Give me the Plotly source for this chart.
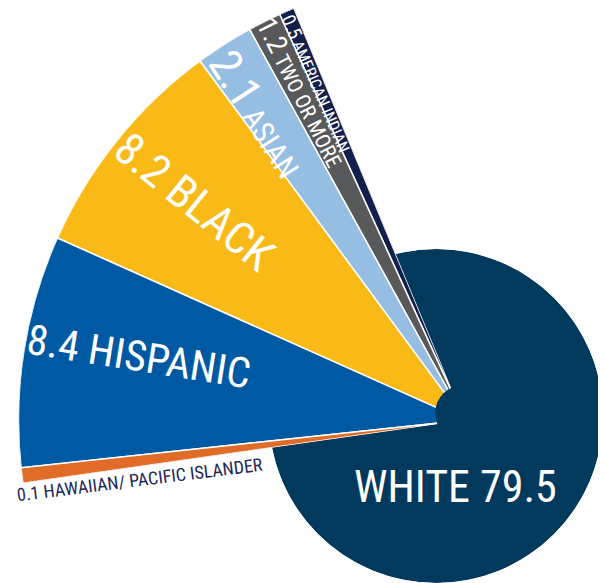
import numpy as np
import plotly.graph_objects as go

W, H = 606, 583
OFF = 8   # the page body margin pushes the figure 8 px right and down

# data (percent of enrolment)
groups = ['AMERICAN INDIAN', 'TWO OR MORE', 'ASIAN', 'BLACK', 'HISPANIC',
          'HAWAIIAN/ PACIFIC ISLANDER']
shares = [0.5, 1.2, 2.1, 8.2, 8.4, 0.1]
white_label = 'WHITE'
white_share = 79.5

colors = ['#13204c', '#58595b', '#96bde2', '#f9ba17', '#0059a3', '#e06c27']
white_color = '#023a5d'

# layout, in screen pixels
START = 112.5              # angle of the first coloured edge
MIN_DEG = 2.0              # thinnest slice that stays visible
APEX = (465, 420)          # point of the coloured wedges
R_OUT = 447                # their length
DISC = (436, 416, 167)     # white disc: centre x, centre y, radius
HUB = (463, 413, 28)
FONT = 'Roboto Condensed, sans-serif'

widths = [max(s * 3.6, MIN_DEG) for s in shares]
edges = START + np.concatenate([[0], np.cumsum(widths)])
mids = (edges[:-1] + edges[1:]) / 2
end = edges[-1]
white_width = 360 - sum(widths)
white_mid = end + white_width / 2


def px_domain(x0, x1, y0, y1):
    x0, x1 = max(x0 - OFF, 0), min(x1 - OFF, W)
    y0, y1 = max(y0 - OFF, 0), min(y1 - OFF, H)
    return dict(x=[x0 / W, x1 / W], y=[1 - y1 / H, 1 - y0 / H])


def paper(x, y):
    return (x - OFF) / W, 1 - (y - OFF) / H


def polar_cfg(domain, sector=None):
    cfg = dict(domain=domain, bgcolor='rgba(0,0,0,0)', hole=0,
               radialaxis=dict(range=[0, 1], visible=False),
               angularaxis=dict(visible=False, rotation=0,
                                direction='counterclockwise'))
    if sector is not None:
        cfg['sector'] = sector
    return cfg


# bounding box of the coloured sector, apex included
a = np.radians(np.linspace(START, end, 200))
cx = np.append(np.cos(a), 0)
cy = np.append(np.sin(a), 0)
sec_dom = px_domain(APEX[0] + R_OUT * cx.min(), APEX[0] + R_OUT * cx.max(),
                    APEX[1] - R_OUT * cy.max(), APEX[1] - R_OUT * cy.min())
disc_dom = px_domain(DISC[0] - DISC[2], DISC[0] + DISC[2],
                     DISC[1] - DISC[2], DISC[1] + DISC[2])
hub_dom = px_domain(HUB[0] - HUB[2], HUB[0] + HUB[2],
                    HUB[1] - HUB[2], HUB[1] + HUB[2])

fig = go.Figure()
fig.add_trace(go.Barpolar(r=[1], theta=[white_mid], width=[white_width],
                          marker=dict(color=white_color, line=dict(width=0)),
                          name=white_label, subplot='polar', hoverinfo='name'))
fig.add_trace(go.Barpolar(r=[1] * len(shares), theta=mids, width=widths,
                          marker=dict(color=colors, line=dict(color='white', width=1.5)),
                          text=groups, hoverinfo='text', subplot='polar2'))
fig.add_trace(go.Barpolar(r=[1], theta=[0], width=[360],
                          marker=dict(color=white_color, line=dict(width=0)),
                          hoverinfo='skip', subplot='polar3'))


def at_angle(ang, dist):
    t = np.radians(ang)
    return paper(APEX[0] + dist * np.cos(t), APEX[1] - dist * np.sin(t))


# label text and where along each wedge it sits
label_dist = [368, 366, 370, 348, 332]
label_shift = [0.3, 0, 1.5, 0, -2]
label_html = [
    "<span style='font-size:19px'>%s</span> %s" % (shares[0], groups[0]),
    "<span style='font-size:28px'>%s</span> %s" % (shares[1], groups[1]),
    "<span style='font-size:45px'>%s</span> %s" % (shares[2], groups[2]),
    '%s %s' % (shares[3], groups[3]),
    '%s %s' % (shares[4], groups[4]),
]
label_size = [16, 21, 30, 45, 42]

annotations = []
for i in range(5):
    x, y = at_angle(mids[i] + label_shift[i], label_dist[i])
    annotations.append(dict(x=x, y=y, xref='paper', yref='paper', text=label_html[i],
                            textangle=180 - mids[i], showarrow=False,
                            xanchor='center', yanchor='middle',
                            font=dict(family=FONT, size=label_size[i], color='white')))

hx, hy = paper(140, 479)
annotations.append(dict(x=hx, y=hy, xref='paper', yref='paper',
                        text='%s %s' % (shares[5], groups[5]),
                        textangle=180 - mids[5], showarrow=False,
                        xanchor='center', yanchor='middle',
                        font=dict(family=FONT, size=18, color='#1b2858')))
wx, wy = paper(455, 487)
annotations.append(dict(x=wx, y=wy, xref='paper', yref='paper',
                        text='%s %s' % (white_label, white_share), showarrow=False,
                        xanchor='center', yanchor='middle',
                        font=dict(family=FONT, size=44, color='white')))

fig.update_layout(
    width=W, height=H,
    margin=dict(l=0, r=0, t=0, b=0),
    paper_bgcolor='white', plot_bgcolor='white',
    showlegend=False,
    polar=polar_cfg(disc_dom),
    polar2=polar_cfg(sec_dom, sector=[START, end]),
    polar3=polar_cfg(hub_dom),
    annotations=annotations,
)

fig.write_html('out.html')
